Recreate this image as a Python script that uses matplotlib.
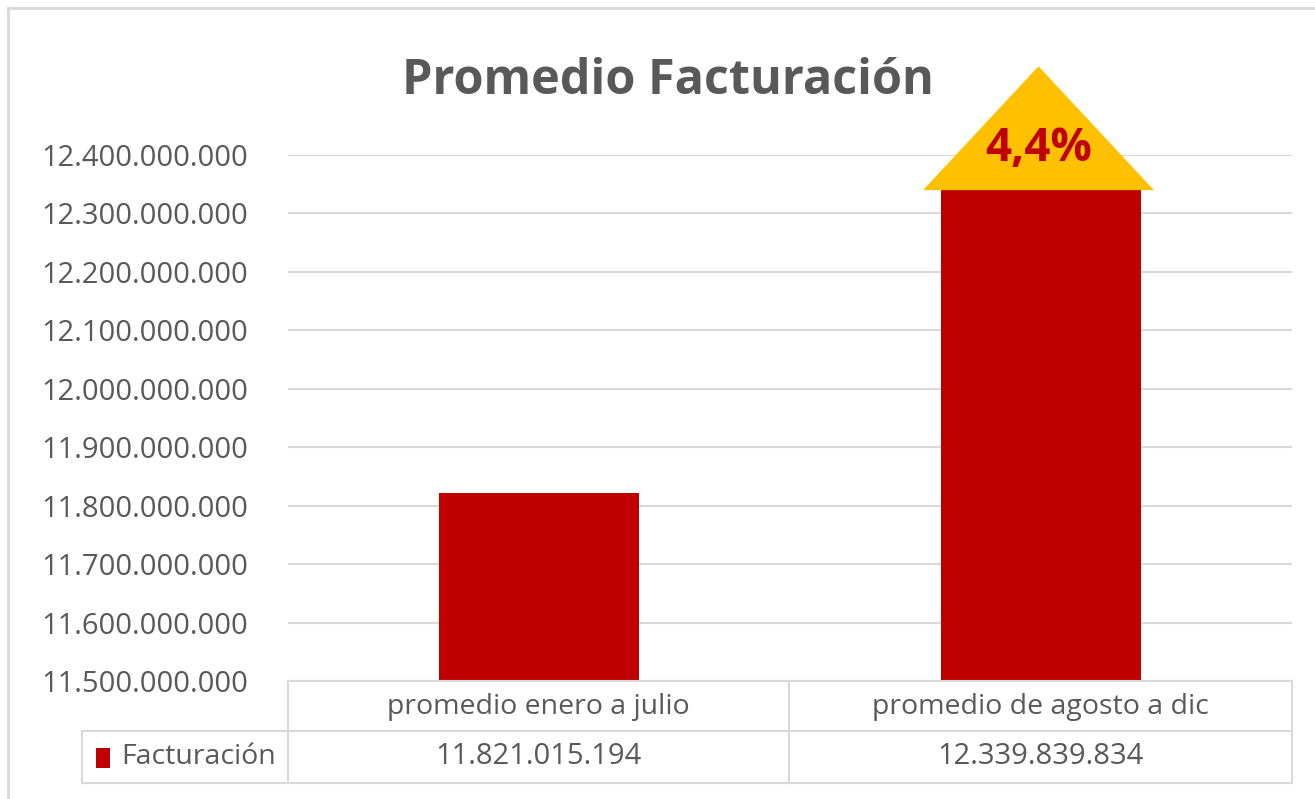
import matplotlib.pyplot as plt
from matplotlib.patches import Polygon, Rectangle
from matplotlib.lines import Line2D
from matplotlib.ticker import FuncFormatter

# data
categories = ["promedio enero a julio", "promedio de agosto a dic"]
facturacion = [11821015194, 12339839834]
series_name = "Facturación"
title = "Promedio Facturación"
y_min, y_max, y_step = 11500000000, 12400000000, 100000000

RED = "#C00000"
GOLD = "#FFC000"
GRID = "#D9D9D9"
TXT = "#595959"
W, H = 1315, 799


def thousands(v, pos=None):
    return f"{int(round(v)):,}".replace(",", ".")


def fx(px):
    return px / W


def fy(py):
    return 1 - py / H


fig = plt.figure(figsize=(W / 100, H / 100), dpi=100)
plt.rcParams["font.family"] = ["Open Sans", "DejaVu Sans"]

# plot area
ax = fig.add_axes([fx(288), fy(681), fx(1292) - fx(288), fy(155) - fy(681)])
x = list(range(len(categories)))
ax.bar(x, facturacion, width=0.4, color=RED, zorder=3)
ax.set_xlim(-0.5, len(categories) - 0.5)
ax.set_ylim(y_min, y_max)
ticks = list(range(y_min, y_max + 1, y_step))
ax.set_yticks(ticks)
ax.yaxis.set_major_formatter(FuncFormatter(thousands))
ax.tick_params(axis="y", length=0, pad=29, labelsize=21, labelcolor=TXT)
ax.set_xticks([])
for s in ax.spines.values():
    s.set_visible(False)
ax.grid(axis="y", color=GRID, linewidth=1.5, zorder=0)

# growth triangle on top of the second bar
growth = facturacion[1] / facturacion[0] - 1
top = facturacion[1]
tri = Polygon([(0.765, top), (1.225, top), (0.995, top + 2.12e8)],
              closed=True, facecolor=GOLD, edgecolor="none", clip_on=False, zorder=4)
ax.add_patch(tri)
ax.text(0.995, top + 0.72e8, f"{growth * 100:.1f}%".replace(".", ","),
        ha="center", va="center", fontsize=33, fontweight="bold",
        color=RED, zorder=5, clip_on=False)

# title
fig.text(fx(668), fy(81), title, ha="center", va="center",
         fontsize=35, fontweight="bold", color=TXT)

# data table under the chart
lw = 1.5
lines = [
    ((288, 1292), (681, 681)),
    ((82, 1292), (731, 731)),
    ((82, 1292), (783, 783)),
    ((82, 82), (731, 783)),
    ((288, 288), (681, 783)),
    ((789, 789), (681, 783)),
    ((1292, 1292), (681, 783)),
]
for xs, ys in lines:
    fig.add_artist(Line2D([fx(xs[0]), fx(xs[1])], [fy(ys[0]), fy(ys[1])],
                          color=GRID, linewidth=lw))

col_centers = [538, 1040]
for cx, cat, val in zip(col_centers, categories, facturacion):
    fig.text(fx(cx), fy(707), cat, ha="center", va="center", fontsize=20.5, color=TXT)
    fig.text(fx(cx), fy(757), thousands(val), ha="center", va="center",
             fontsize=21, color=TXT)

fig.add_artist(Rectangle((fx(96), fy(768)), fx(14), fy(748) - fy(768),
                         facecolor=RED, edgecolor="none"))
fig.text(fx(121), fy(757), series_name, ha="left", va="center", fontsize=20.5, color=TXT)

# outer chart border
fig.add_artist(Line2D([fx(8), fx(8)], [fy(8), 0], color=GRID, linewidth=2))
fig.add_artist(Line2D([fx(8), 1], [fy(8), fy(8)], color=GRID, linewidth=2))

fig.savefig("out.png", dpi=100)
